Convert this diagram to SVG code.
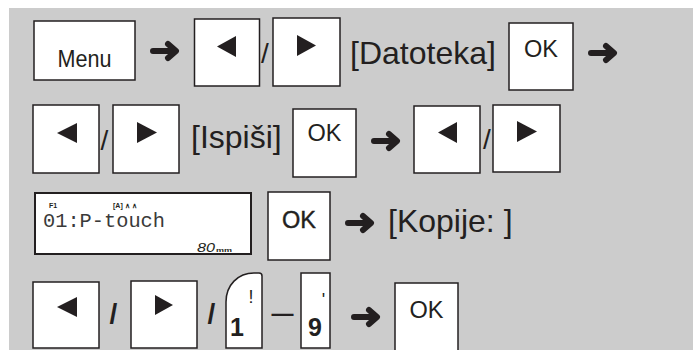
<svg xmlns="http://www.w3.org/2000/svg" width="693" height="350" viewBox="0 0 693 350">
<style>
.key{fill:#fff;stroke:#231f20;stroke-width:1.5;}
.tri{fill:#231f20;}
.lbl{font-family:"Liberation Sans",Arial,sans-serif;fill:#231f20;}
.big{font-size:32px;}
.ok{font-size:23px;text-anchor:middle;}
.sl{font-size:28px;text-anchor:middle;}
.arr{fill:none;stroke:#231f20;stroke-width:6;stroke-linecap:round;stroke-linejoin:round;}
.lcd{font-family:"Liberation Mono","DejaVu Sans Mono",monospace;fill:#3a3a3a;}
</style>
<defs>
<g id="arrow"><path class="arr" d="M2,0 L24,0 M17,-7 L25,0 L17,7"/></g>
</defs>
<rect x="9" y="8" width="684" height="342" fill="#cccccc"/>

<g id="menu"><rect class="key" x="34" y="21" width="101" height="59"/><text class="lbl ok" x="84.5" y="67" font-size="23" textLength="54" lengthAdjust="spacingAndGlyphs">Menu</text></g>
<g id="r1-left"><rect class="key" x="194.5" y="19" width="65" height="67"/><polygon class="tri" points="217,46.5 236,36 236,57"/></g>
<text class="lbl sl" x="265" y="63">/</text>
<g id="r1-right"><rect class="key" x="273" y="18" width="67" height="68"/><polygon class="tri" points="297,35 297,56 316,45.5"/></g>
<text id="t-datoteka" class="lbl big" x="350" y="64">[Datoteka]</text>
<g id="r1-ok"><rect class="key" x="509" y="23" width="64" height="67"/><text class="lbl ok" x="541" y="57" textLength="34" lengthAdjust="spacingAndGlyphs">OK</text></g>

<g id="r2-left"><rect class="key" x="33" y="105" width="66" height="68"/><polygon class="tri" points="57,133 77,123 77,143"/></g>
<text class="lbl sl" x="104.5" y="150">/</text>
<g id="r2-right"><rect class="key" x="113" y="105" width="66" height="68"/><polygon class="tri" points="137,122 137,143 157,132.5"/></g>
<text id="t-ispisi" class="lbl big" x="191" y="148">[Ispiši]</text>
<g id="r2-ok"><rect class="key" x="293" y="109" width="63" height="68"/><text class="lbl ok" x="324.5" y="141" textLength="34" lengthAdjust="spacingAndGlyphs">OK</text></g>
<g id="r2-left2"><rect class="key" x="414" y="106" width="66" height="67"/><polygon class="tri" points="438,132.5 457,122 457,143"/></g>
<text class="lbl sl" x="487" y="149">/</text>
<g id="r2-right2"><rect class="key" x="493" y="105" width="67" height="67"/><polygon class="tri" points="517,121 517,142 537,131.5"/></g>

<g id="lcd"><rect x="35" y="193" width="216" height="61" fill="#fff" stroke="#231f20" stroke-width="2"/>
<text class="lbl" x="49" y="207.5" font-size="7" font-weight="bold">F1</text>
<text class="lbl" x="113" y="207.5" font-size="7" font-weight="bold" font-family="'DejaVu Sans',sans-serif">[A] ∧ ∧</text>
<text class="lcd" x="43" y="227" font-size="21" textLength="122" lengthAdjust="spacingAndGlyphs">01:P-touch</text>
<text class="lbl" x="197" y="251.5" font-size="12" font-style="italic" textLength="18" lengthAdjust="spacingAndGlyphs">80</text>
<text class="lbl" x="216" y="251.5" font-size="6" font-weight="bold" textLength="16" lengthAdjust="spacingAndGlyphs">mm</text></g>
<g id="r3-ok"><rect class="key" x="268" y="192" width="62" height="68"/><text class="lbl ok" x="299" y="228" font-size="23" stroke="#231f20" stroke-width="0.4" textLength="34" lengthAdjust="spacingAndGlyphs">OK</text></g>
<text id="t-kopije" class="lbl big" x="388" y="232">[Kopije: ]</text>

<g id="r4-left"><rect class="key" x="33" y="282" width="66" height="66"/><polygon class="tri" points="57,307 77,297 77,317"/></g>
<text class="lbl sl" x="113.5" y="323" font-weight="bold">/</text>
<g id="r4-right"><rect class="key" x="131" y="281" width="66" height="67"/><polygon class="tri" points="155,295 155,315 173,305"/></g>
<text class="lbl sl" x="211.5" y="323" font-weight="bold">/</text>
<g id="key1"><path class="key" d="M226,348 L226,302 C226,285 238,273 254,273 L259,273 Q262,273 262,276 L262,348 Z"/>
<text class="lbl" x="251" y="303" font-size="18" text-anchor="middle">!</text>
<text class="lbl" x="237" y="336" font-size="25" font-weight="bold" text-anchor="middle">1</text></g>
<text class="lbl" x="282.5" y="321" font-size="22" font-weight="bold" text-anchor="middle">—</text>
<g id="key9"><rect class="key" x="301" y="273" width="29" height="75"/>
<text class="lbl" x="323.5" y="306" font-size="18" text-anchor="middle">'</text>
<text class="lbl" x="315" y="336" font-size="25" font-weight="bold" text-anchor="middle">9</text></g>
<g id="r4-ok"><rect class="key" x="395" y="283" width="63" height="70"/><text class="lbl ok" x="426.5" y="318" textLength="34" lengthAdjust="spacingAndGlyphs">OK</text></g>

<g id="connectors">
<use href="#arrow" x="151" y="51"/>
<use href="#arrow" x="589" y="53"/>
<use href="#arrow" x="372" y="141"/>
<use href="#arrow" x="346" y="223"/>
<use href="#arrow" x="352" y="317"/>
</g>
</svg>
